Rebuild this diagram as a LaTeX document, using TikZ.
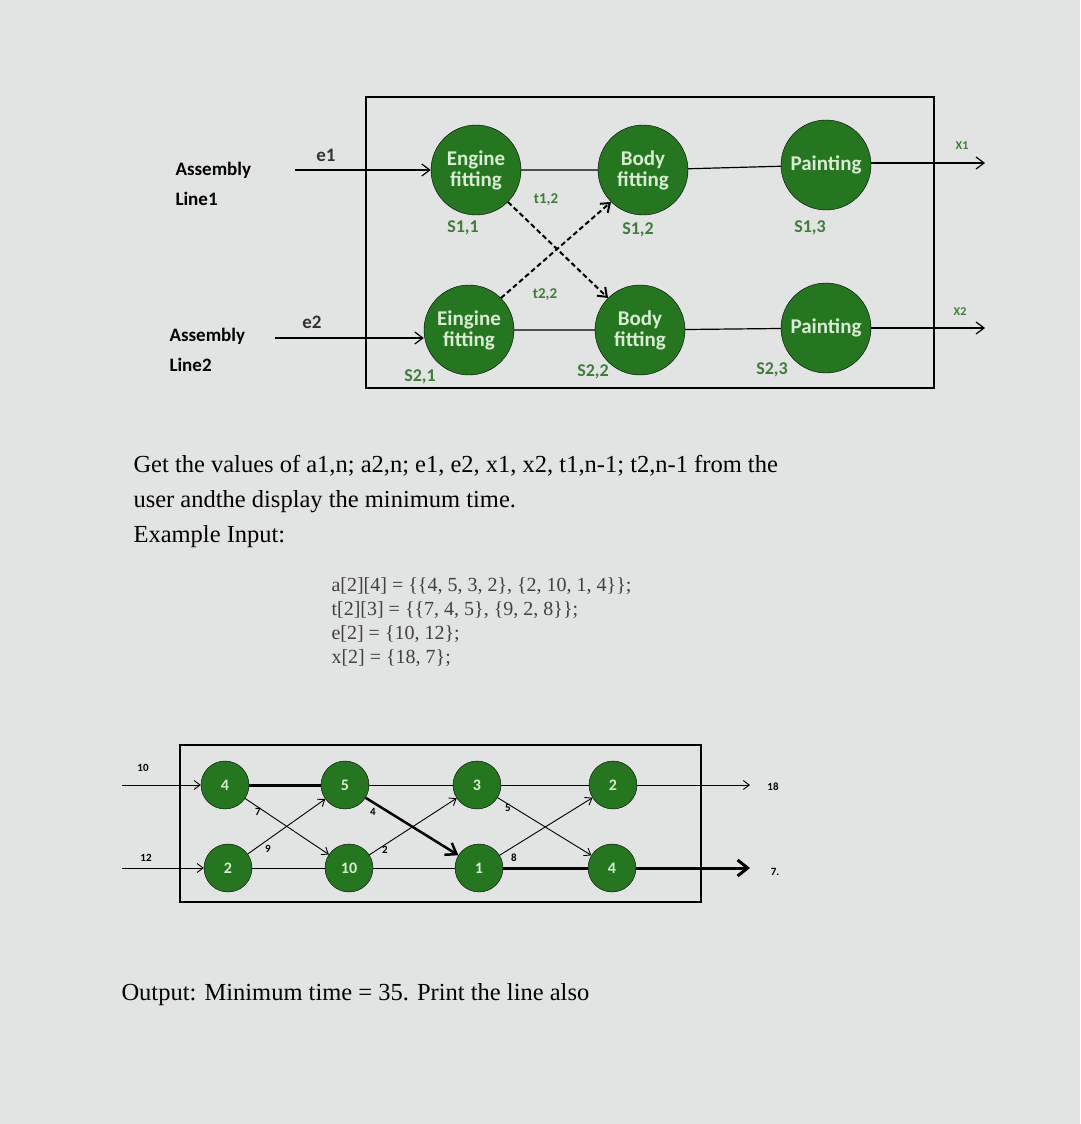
\documentclass[tikz,border=0pt]{standalone}
\usepackage{fontspec}
\setmainfont{Liberation Serif}
\newfontfamily\carfont{Carlito}
\usetikzlibrary{arrows.meta}
\definecolor{bg}{HTML}{E2E3E3}
\definecolor{gr}{HTML}{24771F}
\definecolor{lt}{HTML}{D9EBD3}
\definecolor{lab}{HTML}{3E7D38}
\begin{document}
\begin{tikzpicture}[x=1pt,y=-1pt,
  big/.style={circle,draw=black,fill=gr,minimum size=90pt,inner sep=0pt,align=center,text=lt,font=\carfont\bfseries\fontsize{21}{21}\selectfont},
  sm/.style={circle,draw=black,fill=gr,minimum size=48pt,inner sep=0pt,text=lt,font=\carfont\bfseries\fontsize{16}{16}\selectfont},
  glab/.style={text=lab,font=\carfont\bfseries\fontsize{18}{18}\selectfont},
  blab/.style={font=\carfont\bfseries\fontsize{19}{30}\selectfont,align=left},
  wl/.style={font=\carfont\bfseries\fontsize{11}{11}\selectfont},
  ar/.style={-{Straight Barb[length=8pt,width=12pt]},line width=1.2pt},
  thk/.style={line width=3pt},
  pt/.style={font=\fontsize{24.5}{35}\selectfont,align=left,anchor=north west},
  code/.style={font=\fontsize{20}{24}\selectfont,align=left,anchor=north west,text=black!75}]
\fill[bg] (0,0) rectangle (1080,1124);
\useasboundingbox (0,0) rectangle (1080,1124);
% top box
\draw[line width=2pt] (366,97) rectangle (934,388);
\node[big] (e1) at (476,170) {Engine\\fitting};
\node[big] (b1) at (643,170) {Body\\fitting};
\node[big] (p1) at (826,165) {Painting};
\node[big] (e2) at (469,330) {Eingine\\fitting};
\node[big] (b2) at (640,330) {Body\\fitting};
\node[big] (p2) at (826,328) {Painting};
\node[blab,anchor=west] (al1) at (172,184) {Assembly\\Line1};
\node[blab,anchor=west] (al2) at (166,350) {Assembly\\Line2};
\coordinate (i1) at (295,170); \coordinate (i2) at (275,338);
\coordinate (o1) at (985,163); \coordinate (o2) at (985,328);
\draw[ar] (i1) -- (e1);
\draw[ar] (i2) -- (e2.west|-i2);
\draw[line width=1.2pt] (e1) -- (b1) (b1) -- (p1) (e2) -- (b2) (b2) -- (p2);
\draw[ar] (p1.east|-o1) -- (o1);
\draw[ar] (p2.east|-o2) -- (o2);
\draw[ar,dash pattern=on 5pt off 3pt,line width=2pt] (e1.south east) -- (b2.north west);
\draw[ar,dash pattern=on 5pt off 3pt,line width=2pt] (e2.north east) -- (b1.south west);
\node[blab,text=black!80] (le1) at (326,155) {e1};
\node[blab,text=black!80] (le2) at (312,322) {e2};
\node[glab,font=\carfont\bfseries\fontsize{12}{12}\selectfont] (x1) at (962,146) {X1};
\node[glab,font=\carfont\bfseries\fontsize{12}{12}\selectfont] (x2) at (960,312) {X2};
\node[glab] (s11) at (463,228) {S1,1};
\node[glab] (s12) at (638,230) {S1,2};
\node[glab] (s13) at (810,228) {S1,3};
\node[glab] (s21) at (420,377) {S2,1};
\node[glab] (s22) at (593,372) {S2,2};
\node[glab] (s23) at (772,370) {S2,3};
\node[glab,font=\carfont\bfseries\fontsize{15}{15}\selectfont] (t12) at (546,200) {t1,2};
\node[glab,font=\carfont\bfseries\fontsize{15}{15}\selectfont] (t22) at (545,295) {t2,2};
% text
\node[pt] (para) at (130,452) {Get the values of a1,n; a2,n; e1, e2, x1, x2, t1,n-1; t2,n-1 from the\\user andthe display the minimum time.\\Example Input:};
\node[code] (cd) at (328,574) {a[2][4] = \{\{4, 5, 3, 2\}, \{2, 10, 1, 4\}\};\\t[2][3] = \{\{7, 4, 5\}, \{9, 2, 8\}\};\\e[2] = \{10, 12\};\\x[2] = \{18, 7\};};
% bottom box
\draw[line width=1.3pt] (180,745) rectangle (701,902);
\node[sm] (a1) at (225,785) {4};
\node[sm] (a2) at (345,785) {5};
\node[sm] (a3) at (477,785) {3};
\node[sm] (a4) at (613,785) {2};
\node[sm] (c1) at (228,868) {2};
\node[sm] (c2) at (349,868) {10};
\node[sm] (c3) at (479,868) {1};
\node[sm] (c4) at (612,868) {4};
\coordinate (j1) at (122,785); \coordinate (j2) at (122,868);
\coordinate (q1) at (750,785); \coordinate (q2) at (750,868);
\tikzset{sa/.style={-{Straight Barb[length=6pt,width=9pt]},line width=0.9pt}}
\draw[sa] (j1) -- (a1); \draw[sa] (j2) -- (c1);
\draw[thk] (a1) -- (a2);
\draw[line width=0.9pt] (a2) -- (a3) (a3) -- (a4) (c1) -- (c2) (c2) -- (c3);
\draw[thk] (c3) -- (c4);
\draw[sa] (a4) -- (q1);
\draw[-{Straight Barb[length=10pt,width=16pt]},thk] (c4) -- (q2);
\draw[sa] (a1) -- (c2); \draw[sa] (c1) -- (a2);
\draw[-{Straight Barb[length=10pt,width=14pt]},line width=2.5pt] (a2) -- (c3); \draw[sa] (c2) -- (a3);
\draw[sa] (a3) -- (c4); \draw[sa] (c3) -- (a4);
\node[wl] (w10) at (143,768) {10};
\node[wl] (w12) at (146,858) {12};
\node[wl] (w18) at (773,787) {18};
\node[wl] (w7) at (775,872) {7.};
\node[wl] (n7) at (258,812) {7};
\node[wl] (n9) at (268,849) {9};
\node[wl] (n4) at (373,812) {4};
\node[wl] (n2) at (385,850) {2};
\node[wl] (n5) at (508,808) {5};
\node[wl] (n8) at (514,858) {8};
\node[pt,anchor=west] (out) at (118,995) {Output: Minimum time = 35. Print the line also};
\end{tikzpicture}
\end{document}
